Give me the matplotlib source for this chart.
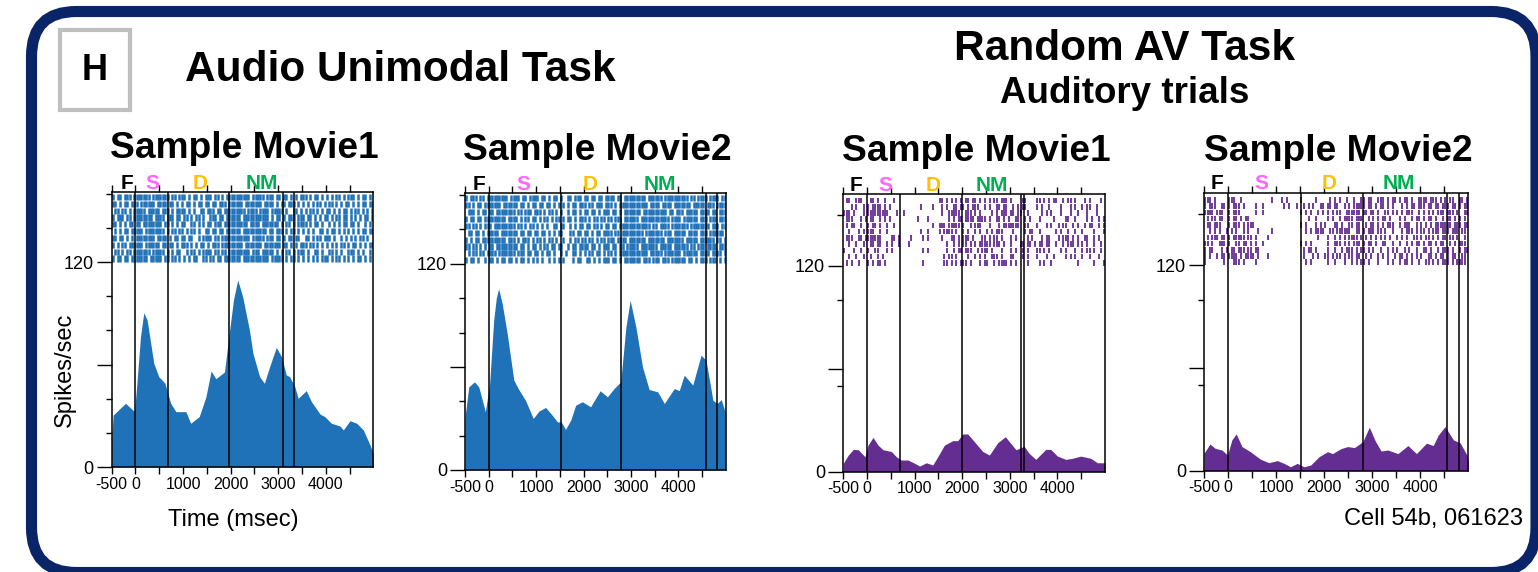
import matplotlib
matplotlib.use("Agg")
import matplotlib.pyplot as plt
from matplotlib.patches import FancyBboxPatch, Rectangle

plt.rcParams["font.family"] = ["Liberation Sans", "DejaVu Sans"]
plt.rcParams["axes.unicode_minus"] = False

BLUE = "#1f71b8"
PURPLE = "#642d91"

# PSTH curves: time (ms) and firing rate (spikes/sec)
t_uni1 = [-500, -470, -210, -20, 30, 105, 175, 245, 315, 385, 490, 620, 740, 850, 1060, 1160,
          1340, 1480, 1590, 1690, 1870, 1970, 2060, 2150, 2255, 2395, 2470, 2610, 2710, 2820,
          2960, 3070, 3170, 3240, 3350, 3420, 3590, 3700, 3880, 3980, 4120, 4300, 4370, 4510,
          4650, 4790, 4930, 5000]
v_uni1 = [15.8, 30.4, 37.3, 32.4, 49, 76.3, 90.3, 86, 73.4, 60.7, 52.9, 49, 37.3, 32.4, 32.4, 25.6,
          29.5, 41, 56.2, 51.7, 55.6, 78, 97.8, 109.5, 99.5, 80.2, 66.5, 52.9, 49, 58.7,
          70, 64.6, 53.9, 52.9, 47, 40.2, 44.7, 38.2, 31, 29.5, 25.6, 24, 21.7, 27.1,
          25.6, 21.7, 12.9, 8]

t_uni2 = [-500, -490, -420, -300, -210, -70, 20, 105, 160, 210, 285, 390, 530, 635, 775, 940,
          1060, 1200, 1340, 1450, 1530, 1620, 1730, 1835, 1975, 2150, 2350, 2505, 2645, 2785,
          2895, 2985, 3105, 3245, 3385, 3565, 3705, 3915, 4020, 4125, 4305, 4480, 4585, 4730,
          4820, 4905, 5000]
v_uni2 = [30, 32.9, 48.4, 51.3, 48.4, 33.9, 50.3, 87.1, 100, 105.5, 96.8, 79.4, 52.3, 46.8, 40.6, 30,
          34.3, 36.4, 31.9, 28, 28, 23.6, 29, 37.7, 39.7, 36.8, 46.1, 42.6, 47.4, 51.3,
          83.2, 98.7, 83.2, 60, 46.8, 45.5, 38.7, 47.4, 46.2, 55.2, 49.4, 66.8, 63.9, 40.6,
          38.7, 41, 32.9]

t_av1 = [-500, -395, -290, -185, -45, 20, 125, 230, 335, 510, 615, 720, 860, 1000, 1105, 1245,
         1380, 1485, 1625, 1800, 1905, 2010, 2115, 2255, 2430, 2570, 2745, 2905, 3025, 3130,
         3300, 3405, 3545, 3755, 3860, 4000, 4175, 4315, 4490, 4700, 4840, 5000]
v_av1 = [4.9, 9.7, 13, 12.8, 8.7, 15.5, 20, 15.5, 12.8, 11.8, 8.7, 6.8, 6.8, 4.9, 3.3, 5.2,
         3.9, 8.7, 15.5, 18.1, 18.1, 22, 22, 17.5, 11.8, 9.7, 16.9, 20.4, 16.3, 12.8,
         14.8, 10.7, 7.2, 13, 13, 9.1, 7.2, 7.8, 9.1, 7.8, 5.2, 5.2]

t_av2 = [-500, -375, -270, -130, -10, 80, 170, 290, 465, 675, 850, 1025, 1165, 1300, 1440, 1580,
         1720, 1895, 2070, 2175, 2350, 2490, 2630, 2805, 2940, 3060, 3185, 3325, 3535, 3745,
         3920, 4130, 4270, 4375, 4515, 4690, 4830, 4970, 5000]
v_av2 = [10.2, 15.6, 13.1, 12.1, 9.2, 18, 21.5, 14.1, 11.1, 6.7, 4.7, 5.9, 4.3, 2.3, 4.3, 2.3,
         3.3, 8.2, 11.1, 10, 12.9, 14.1, 13.5, 17, 25.4, 17.6, 11.5, 12.1, 10, 14.7,
         10, 16.1, 14.7, 20.8, 25.8, 18, 16.3, 9.2, 5.3]

# task event times (ms)
ev_uni1 = [0, 680, 1960, 3110, 3330]
ev_uni2 = [0, 1515, 2800, 4585, 4820]
ev_av1 = [0, 700, 1985, 3225, 3300]
ev_av2 = [0, 1515, 2800, 4560, 4815]

# epoch labels above each raster
epochs = ["F", "S", "D", "NM"]
epoch_colors = ["black", "#ff66ff", "#ffc000", "#00b050"]
lab_uni1 = [-180, 350, 1355, 2655]
lab_uni2 = [-210, 730, 2140, 3600]
lab_av1 = [-235, 390, 1395, 2620]
lab_av2 = [-220, 685, 2095, 3550]

# spike rasters: one string per trial (top trial first), 50 ms bins from -500 ms, '|' = spike
raster_uni1 = [
    "|.||.|||.| ||||||.||| ||||.||.|| |.|.||.|.| ||.||.|.|| ||||||||.| ||||.|||.| |.||.|.|.| ||.|.||.|. |.|.||.|.| ||.|.||.|.",
    "||.|.||.|| |.||||||.| |||.||.|.| .||.|.||.| |.||.|||.| |||||.|||| |||.||||.| .||.|||.|. |.|.|.||.| .||.|.|.|| .|.|.||.||",
    ".||.||.|.| ||||.||||| .|||.|.||| |.|.|..||. |||.||.||| ||||||.||| |.||||.||| ||.|..||.| .|.||.|.|. ||.|.|.||. |.||.|.|.|",
    "|.|||.||.| |||||||.|| ||.|||.||. ||.|.||.|. .|||.||.|| ||||.||||| ||||||.|.| |.|.|||.|| |.||.|.|.| |.|.||.||. |.|.|.||.|",
    "||.|.|.||. ||.||||||| |.||.|.|.| |..||.|.|. ||.|||.||| |||||||.|| ||.||||||| .|.||.|.|| ||.|.||.|. .|.|.|.||. ||.|..|.|.",
    ".|.|.||.|| |||.|||||| ||.|.||.|| .|.||.|..| |.||.||.|| ||||.||||| |||||.||.| ||.|.||.|. |.|.|..||. |.||.|.|.| .|.|.||.||",
    "||.||.|.|. ||||||||.| |||.|.||.| |.||..|.|| ||.||.|||| ||||||||.| ||||.|||.| |.|.||.||. .||.|.||.| ||.|..|.|. |.|.||.|..",
    "|.|.||.||| |||.|||||| .||.||.|.| ||.|.|.||. |.|||.|||| |||||.|||| |||.|||||| |.||.|.|.| ||.||.|.|. |.|.|.||.| .||.|.|.||",
    ".||.|.||.| ||||||.||| ||.|.|.||. .|.||.|.|| ||.||.||.| ||||||||.| ||.|||||.| .|.||.|.|| |.|..||.|. .||.|.|..| ||.|.|..|.",
    "|.||.||.|| |||||.|||| |.||.||.|. |.|.||..|| .||.||.||| ||||.||||| ||||||.||| ||.|.||.|. |.|.|.|.|| |.|.||.|.| .|.||.|.|.",
]
raster_uni2 = [
    "|.|||.||.| ||||||||.| |||.||.||| |.||.|.||. |..||.|||. ||.||.||.| |||.||.||| ||||||.||| |||.|||||| ||||.||.|| ||.||||.||",
    "||.|.||.|| |||||.|||| ||.||.|.|| .||.||.|.| .|.|.||.|| |.||.|||.| ||.|.||||| |||||||.|| ||.||||.|| |||||.|||| |.|||.||||",
    ".|||.|.||. ||.||||||| |.||.|||.| ||.|.||.|. |..|.||.|. ||.||.|.|| |.||.|.||| ||||.||||| |||||.||.| ||.|||||.| |||.||.|||",
    "|.||.||.|| |||||||.|| ||.|.||.|| .|.||.|.|| .|.||.|.|| |.|.||.||. ||.|||.||| |||.|||||| ||||||.||| |.||||||.| ||.|||.|||",
    "||.||.|.|| |.|||||||| |.||.|.||. |.|.|..||. ||..|.|.|| .||.||.|.| |.||.||||| ||||||||.| |.||||.||| ||||.||||| |||.|||.||",
    ".||.||.|.| ||||.||||| ||.||.||.| |.||.|.|.| |...||.||. ||.|.||.|| ||.||.|||| |||||.|||| |||.|||.|| |||.||||.| ||.||||||.",
    "|.|.||.||| |||||||.|| |.|.|||.|. ||.|.||.|. .|..|.||.| |.||.|.||. |||.||||.| ||||||.||| ||||.||||| ||.|||||.| |||||.||.|",
    "||.||.|.|. ||.||||||| ||.||.|.|| .|.||.||.| |..|.||.|| ||.||.|.|| |.||.||.|| |||.|||||| |.|||||.|| ||||.||.|| |.||||.|||",
    ".|.||.||.| |||.|||||| |.|||.||.| |.|.||.|.. |.|..||.|. |.||.||.|. ||.|.||||| |||||||.|| |||.|||||| |.||||||.| |||.||||.|",
    "|.||.|..|. ||.|.||.|| .|.||.|.|. |.|..|.|.| .|...|.||. .||.|.|.|| |.||.|.||| ||||.|||.| ||.|||.||| |||.||.|.| ||.|||.|.|",
]
raster_av1 = [
    ".||..|||.. .||.|..|.. .|........ .......... ||.|.|.|.| .||.||.|.| .|.||.|||. |....||... .||.|.|.|| ..|.||.|.. .|.|....|.",
    "...|.|..|. |.||||.|.| .......... ..|....|.. .|.|..||.| |.|.|||..| .|..||.||. .|.|.||... .|.|..|... .|...|.|.. |.||..|...",
    "|||.|...|. |||||||||. ..|..|.... .......... .|..|||||. .|||.|.|.. ..|.|.|||. ||.||..|.. ...|.|.|.. .|...|..|. ..|...|...",
    ".|||...|.| .||..|.|.| .......... .|...|.... ....|.|.|| .||||.|||| .|..||.|.| ..||..|.|. ..|.....|. ...||..|.. ..|.|..|.|",
    ".|.||..|.. |.||.|..|. .|........ .......|.. |||.|||||. |..|.|||.. .|...|.||| ||||..||.. .|...|.|.. |.||..|.|. .|.||..|.|",
    "..|...|.|. |||..|..|. .......... ..|..|.... |.||||.|.. |.|..|.|.. |.|.|||... .|....|.|| ..|......| .|..|..|.. |....|...|",
    ".|||..||.| ||||||.... ||.|....|. ...|.|.... .|...||.|. |||.|...|| .|.||.|... |.|....|.| ...|.||... |.|||.|.|. .||..|.|..",
    "..|..|..|. .||.||..|. |..|...|.. .......... ...|..|.|. ||.|.|.||| ||.|||.|.. |...||.||. |.||.||..| ..|.|||.|. |.|..|..|.",
    "|...|..|.. |..||...|. |......... ...|.|.... ...|..|.|| .|||..|.|| |.|...|... |.|..|.|.. .||.|.|... .|.|...|.. |.||.|..|.",
    "..|..|..|. .|..|.|... .......... .......... ..|.||.|.. ..|..|.|.| ..|||.|... ||...|.|.. .|...|..|. ...|.|.|.. |..|...|..",
    ".|.|..|... |.|.||.|.. .......... ...|...... ..||.|.|.| ||.|...|.| |..|.||||. |.|....|.. ..|.|..|.. ........|. .....|...|",
]
raster_av2 = [
    "|||.|..... |||..|.... ........|. ..|.|..... |.....|... ..|.|.|..| ..|..||.|| ..|||.|.|| .|.||.|..| |||.|||.|. |.||..||.|",
    "|.|||..||. |.|||.|... .|..|..... ...|.|..|. .|.|.|..|| .||.||..|. |.|||||.|| .|.||.|.|. ..|.|.||.| ||.||.||.| ||.||.|.||",
    "||||.|||.. |.|||..... .|..|..... .......... |.|.|..|.| .|.|.||..| |||||.||.| |.|..||.|. |.|.|||..| .|.|.|.||| .|||.|..||",
    ".|.||.||.. |.||.|.||. .......... .......... ...|..|... .|.|..|.|| ||.|||..|. |.|.||.|.. .|.|..|.|| .|.||.|..| .||.|.|.|.",
    ".||.|||... |.|||.|.|| |......... .......... |.|...|.|. |...||.|.. ||.||..|.| |.|.|.|||. .|.|||..|. |.|.|.|||| |||.|||.||",
    "..|.|.|..| .|.|..|.|. ..|.....|. .......... ..|.|.|||| ..||.||||| |..||.|.|| |.||.|..|. ..|.|||.|. ||.|.|||.| ||.|||.||.",
    ".|.|||.||. |.|||||.|| .|....|... .......... .......|.. .|..|.|.|. ||||.|.|.| .|.|.|.|.. |.|.|..||. |.||.|.|.| |.||.|..|.",
    "||.|..|||. |..||.||.| .|..|..... .......... |.|.|..... .|..|||.|. |.|||.|.|| .|..||..|. .|..|.|.|| .|.||.|.|| ..|.|.|||.",
    "|.||...|.| .||.|||.|| .||....... .......... .|.||.|... .|..|..|.| ||.|.||.|. |..|..|.|. |..|.|..|. .||.|..|.| ||.|..|.||",
    "|.|..|.||. ||||.|.||| |.|...|... .......... .|...|.|.. ||.|.||.|. ||.||..|.| ..|.|.|..| .||.|.|.|. |..||.|.|| .|.||..||.",
    "|.......|. ..|||.|... .|........ .......... ..|.|..... .|..|...|. .|.|.||.|. ..|...|.|. .|.||.|..| ..||.|.|.| ||.|.||||.",
]

titles = ["Sample Movie1", "Sample Movie2", "Sample Movie1", "Sample Movie2"]

W, H = 1538, 572
fig = plt.figure(figsize=(W / 100, H / 100), dpi=100)


def fx(px):
    return px / W


def fy(py):
    return 1 - py / H


def draw_panel(box, t, v, raster, events, labx, color, minor_y, title, title_y, ytop):
    left, top, right, bottom = box
    ax = fig.add_axes([fx(left), fy(bottom), fx(right - left), (bottom - top) / H])
    ax.fill_between(t, 0, v, color=color, lw=0, zorder=1)

    rows = [r.replace(" ", "") for r in raster]
    h = 40 / len(rows)
    lw = 1.8 if color == BLUE else 1.3
    for k, row in enumerate(rows[::-1]):
        spikes = [-500 + 50 * i + 25 for i, c in enumerate(row) if c == "|"]
        y0 = 120 + k * h
        ax.vlines(spikes, y0 + 0.06 * h, y0 + 0.96 * h, color=color, lw=lw, zorder=1)

    for e in events:
        ax.axvline(e, color="black", lw=1.1, zorder=3)

    ax.set_xlim(-500, 5000)
    ax.set_ylim(0, ytop)
    ax.set_xticks([-500, 0, 1000, 2000, 3000, 4000])
    ax.set_xticklabels(["-500", "0", "1000", "2000", "3000", "4000"])
    ax.set_xticks([500, 1500, 2500, 3500, 4500], minor=True)
    ax.set_yticks([0, 60, 120])
    ax.set_yticklabels(["0", "", "120"])
    ax.set_yticks(minor_y, minor=True)
    ax.tick_params(axis="x", which="both", length=5, width=1, labelsize=11.5, pad=2, top=True)
    ax.tick_params(axis="y", which="major", length=11, width=1, labelsize=13, pad=2)
    ax.tick_params(axis="y", which="minor", length=4, width=1)
    for s in ax.spines.values():
        s.set_linewidth(1.1)
        s.set_zorder(4)

    for name, c, x in zip(epochs, epoch_colors, labx):
        ax.text(x, 1.012, name, transform=ax.get_xaxis_transform(), ha="center",
                va="baseline", fontsize=15, fontweight="bold", color=c)

    fig.text(fx((left + right) / 2 + 2), fy(title_y), title, ha="center", va="baseline",
             fontsize=26.7, fontweight="bold")
    return ax


minor_uni = [20, 40, 80, 100, 140, 160]
minor_av = [50, 100, 150]

draw_panel((111.7, 192, 373.3, 467), t_uni1, v_uni1, raster_uni1, ev_uni1, lab_uni1,
           BLUE, minor_uni, titles[0], 158, 161)
draw_panel((465, 193.3, 725.7, 470), t_uni2, v_uni2, raster_uni2, ev_uni2, lab_uni2,
           BLUE, minor_uni, titles[1], 160, 161)
draw_panel((843.3, 194, 1105, 471.7), t_av1, v_av1, raster_av1, ev_av1, lab_av1,
           PURPLE, minor_av, titles[2], 160.7, 162)
draw_panel((1204, 192.7, 1468.3, 470.7), t_av2, v_av2, raster_av2, ev_av2, lab_av2,
           PURPLE, minor_av, titles[3], 161, 162.5)

# headings and axis labels
fig.text(fx(400), fy(81), "Audio Unimodal Task", ha="center", va="baseline",
         fontsize=30.5, fontweight="bold")
fig.text(fx(1125), fy(60), "Random AV Task", ha="center", va="baseline",
         fontsize=30.5, fontweight="bold")
fig.text(fx(1125), fy(103), "Auditory trials", ha="center", va="baseline",
         fontsize=26.5, fontweight="bold")
fig.text(fx(65), fy(370), "Spikes/sec", rotation=90, ha="center", va="center", fontsize=17)
fig.text(fx(233), fy(526), "Time (msec)", ha="center", va="baseline", fontsize=17)
fig.text(fx(1523), fy(525), "Cell 54b, 061623", ha="right", va="baseline", fontsize=17)

# panel letter box
fig.add_artist(Rectangle((0.60, (H - 110) / 100), 0.70, 0.80, transform=fig.dpi_scale_trans,
                         fill=False, edgecolor="#bfbfbf", lw=3))
fig.text(fx(95), fy(71), "H", ha="center", va="center", fontsize=26, fontweight="bold")

# rounded outer frame
fig.add_artist(FancyBboxPatch((0.315, -0.005), 15.045, 5.61,
                              boxstyle="round,pad=0,rounding_size=0.45",
                              transform=fig.dpi_scale_trans, fill=False,
                              edgecolor="#0a2468", lw=8))

fig.savefig("out.png", dpi=100)
